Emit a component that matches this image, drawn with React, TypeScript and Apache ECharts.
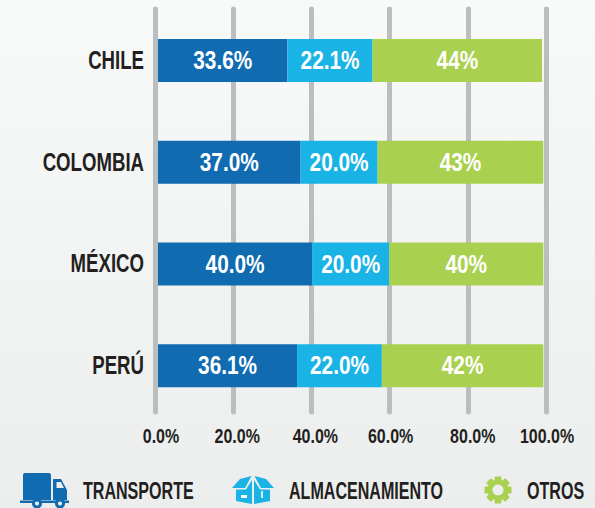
import React, { useEffect, useRef } from "react";
import * as echarts from "echarts";

const categories = ["CHILE", "COLOMBIA", "MÉXICO", "PERÚ"];
const transporte = [33.6, 37.0, 40.0, 36.1];
const almacenamiento = [22.1, 20.0, 20.0, 22.0];
const otros = [44, 43, 40, 42];
const tickValues = [0, 20, 40, 60, 80, 100];
const legendNames = ["TRANSPORTE", "ALMACENAMIENTO", "OTROS"];

const FONT = "'Liberation Sans', sans-serif";
const DARK = "#231f20";
const BLUE = "#106bb0";
const SKY = "#19b3e6";
const GREEN = "#a9d04f";
const BG_BOTTOM = "#eceeee";
// horizontal nudge of each tick label (pixels), as in the reference
const tickNudge = [6, 4, 4, 1, 5, 1];
// no condensed font is installed: each text size gets a horizontal squeeze
const squeezeBySize: Record<string, number> = { "25px": 0.745, "26px": 0.8, "20px": 0.8, "24px": 0.67 };

echarts.graphic.registerShape(
  "truckBody",
  echarts.graphic.extendPath(
    "M5 0H29Q31 0 31 2V27H3V2Q3 0 5 0Z M33 6H41L47 17V27H33Z M36.5 9V15H44L41 9Z M0 27.5H49V30H0Z",
    {}
  )
);

echarts.graphic.registerShape(
  "boxBody",
  echarts.graphic.extendPath(
    "M0 12L8 3L19.5 0L13 12Z M42 12L34 3L22.5 0L29 12Z M4 13.5H14L20 4V28L4 25Z M38 13.5H28L22 4V28L38 25Z",
    {}
  )
);

function wheel(x: number, y: number) {
  return {
    type: "circle",
    shape: { cx: x, cy: y, r: 3.6 },
    style: { fill: BG_BOTTOM, stroke: BLUE, lineWidth: 3 },
  };
}

function gearChildren() {
  const teeth: any[] = [];
  for (let i = 0; i < 8; i++) {
    teeth.push({
      type: "rect",
      rotation: (i * Math.PI) / 4,
      shape: { x: -3.4, y: -13.5, width: 6.8, height: 5, r: 1 },
      style: { fill: GREEN },
    });
  }
  teeth.push({ type: "ring", shape: { cx: 0, cy: 0, r0: 5.6, r: 10.5 }, style: { fill: GREEN } });
  return teeth;
}

function legendText(x: number, text: string) {
  return {
    type: "text",
    x,
    y: 491,
    style: { text, fill: DARK, font: `bold 24px ${FONT}`, verticalAlign: "middle" },
  };
}

function squeezeTexts(root: HTMLElement) {
  root.querySelectorAll("text").forEach((t) => {
    if (t.getAttribute("data-squeezed")) return;
    const css = t.getAttribute("style") || "";
    const size = (css.match(/(\d+)px/) || [])[0];
    const k = size ? squeezeBySize[size] : undefined;
    if (!k) return;
    const x = t.getAttribute("x") || "0";
    const old = t.getAttribute("transform") || "";
    t.setAttribute("transform", `${old} translate(${x} 0) scale(${k} 1) translate(${-Number(x)} 0)`.trim());
    t.setAttribute("data-squeezed", "1");
  });
}

const pctOne = (p: any) => `${Number(p.value).toFixed(1)}%`;
const pctInt = (p: any) => `${p.value}%`;

function barSeries(name: string, data: number[], color: string, formatter: (p: any) => string) {
  return {
    name,
    type: "bar",
    stack: "total",
    xAxisIndex: 1,
    yAxisIndex: 1,
    data,
    barWidth: 43,
    z: 3,
    itemStyle: { color },
    label: {
      show: true,
      position: "inside",
      formatter,
      color: "#ffffff",
      fontFamily: FONT,
      fontWeight: "bold",
      fontSize: 26,
    },
  };
}

export default function App() {
  const ref = useRef<HTMLDivElement>(null);
  useEffect(() => {
    document.body.style.margin = "0";
    const chart = echarts.init(ref.current!, undefined, { renderer: "svg" });
    const rich: any = {};
    tickValues.forEach((v, i) => {
      rich[`t${v}`] = {
        fontFamily: FONT,
        fontWeight: "bold",
        fontSize: 20,
        color: DARK,
        padding: [0, 0, 0, tickNudge[i] * 2],
      };
    });
    chart.on("finished", () => squeezeTexts(ref.current!));
    chart.setOption({
      animation: false,
      backgroundColor: {
        type: "linear",
        x: 0, y: 0, x2: 0, y2: 1,
        colorStops: [
          { offset: 0, color: "#f8f9f9" },
          { offset: 1, color: BG_BOTTOM },
        ],
      },
      grid: [
        { left: 155, right: 49, top: 9, height: 403 },
        { left: 158, right: 51.7, top: 9.5, height: 407 },
      ],
      xAxis: [
        {
          gridIndex: 0,
          type: "value",
          min: 0,
          max: 100,
          interval: 20,
          axisLine: { show: false },
          axisTick: { show: false },
          splitLine: { show: true, lineStyle: { color: "#bcbdbf", width: 5, cap: "round" } },
          axisLabel: {
            margin: 14,
            hideOverlap: false,
            showMinLabel: true,
            showMaxLabel: true,
            formatter: (v: number) => `{t${v}|${v.toFixed(1)}%}`,
            rich,
          },
        },
        { gridIndex: 1, type: "value", min: 0, max: 100, show: false },
      ],
      yAxis: [
        { gridIndex: 0, type: "category", data: categories, inverse: true, show: false },
        {
          gridIndex: 1,
          type: "category",
          data: categories,
          inverse: true,
          axisLine: { show: false },
          axisTick: { show: false },
          axisLabel: {
            margin: 14,
            color: DARK,
            fontFamily: FONT,
            fontWeight: "bold",
            fontSize: 25,
          },
        },
      ],
      series: [
        barSeries("TRANSPORTE", transporte, BLUE, pctOne),
        barSeries("ALMACENAMIENTO", almacenamiento, SKY, pctOne),
        barSeries("OTROS", otros, GREEN, pctInt),
      ],
      graphic: [
        {
          type: "group",
          x: 20,
          y: 473,
          children: [
            { type: "truckBody", style: { fill: BLUE } },
            wheel(17, 30.5),
            wheel(40, 30.5),
          ],
        },
        {
          type: "group",
          x: 232,
          y: 476,
          children: [
            { type: "boxBody", style: { fill: SKY } },
            { type: "rect", shape: { x: 9, y: 19, width: 6, height: 3 }, style: { fill: "#ffffff" } },
            { type: "rect", shape: { x: 29.2, y: 15, width: 1.6, height: 7 }, style: { fill: "#ffffff" } },
          ],
        },
        { type: "group", x: 498, y: 490, children: gearChildren() },
        legendText(83, legendNames[0]),
        legendText(289, legendNames[1]),
        legendText(527, legendNames[2]),
      ],
    });
    squeezeTexts(ref.current!);
    return () => chart.dispose();
  }, []);
  return <div ref={ref} style={{ width: 595, height: 508 }} />;
}
